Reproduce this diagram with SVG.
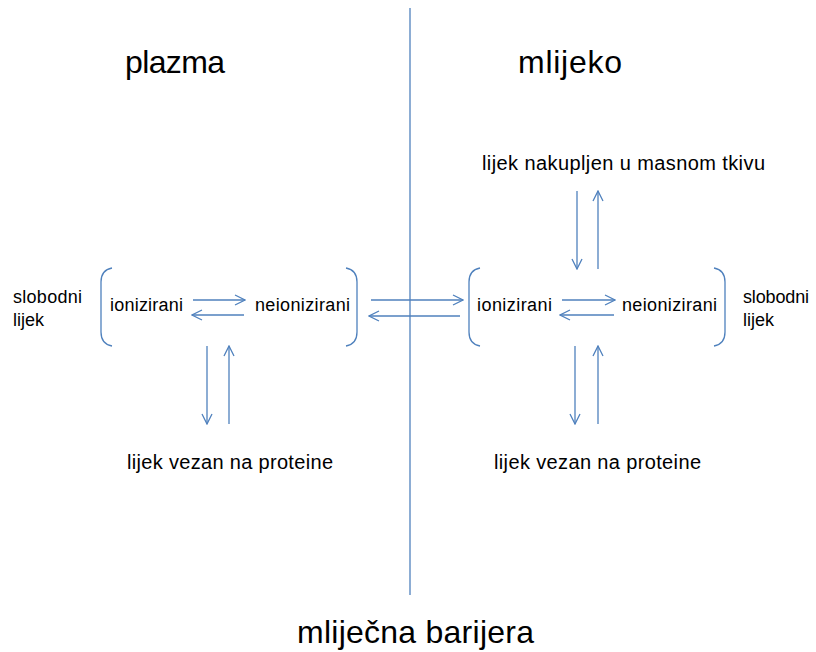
<svg xmlns="http://www.w3.org/2000/svg" width="816" height="652" viewBox="0 0 816 652">
<style>
text{font-family:"Liberation Sans",Arial,sans-serif;fill:#000}
.big{font-size:32px}
.mid{font-size:20px}
.sm{font-size:18px}
.ln{stroke:#4F81BD;stroke-width:1.3;fill:none}
.ar{stroke:#4F81BD;stroke-width:1.3;fill:none;marker-end:url(#ah)}
</style>
<defs>
<marker id="ah" viewBox="0 0 12 12" refX="11" refY="6" markerWidth="12" markerHeight="12" markerUnits="userSpaceOnUse" orient="auto">
<polyline points="1,1 11,6 1,11" fill="none" stroke="#4F81BD" stroke-width="1.3"/>
</marker>
</defs>
<rect width="816" height="652" fill="#fff"/>
<g id="barrier">
<line class="ln" x1="410" y1="8" x2="410" y2="595"/>
</g>
<g id="plazma"><text class="big" x="125" y="73" textLength="100">plazma</text></g>
<g id="mlijeko"><text class="big" x="518" y="73" textLength="104">mlijeko</text></g>
<g id="mlijecna-barijera"><text class="big" x="297" y="643" textLength="237">mliječna barijera</text></g>
<g id="masno-tkivo"><text class="mid" x="482" y="170" textLength="283">lijek nakupljen u masnom tkivu</text></g>
<g id="slobodni-left"><text class="sm" x="13" y="303" textLength="69">slobodni</text><text class="sm" x="13" y="326">lijek</text></g>
<g id="slobodni-right"><text class="sm" x="743" y="303" textLength="66">slobodni</text><text class="sm" x="743" y="326">lijek</text></g>
<g id="plazma-free">
<path class="ln" d="M112,268 Q101,270 101,282 L101,332 Q101,344 112,346"/>
<path class="ln" d="M346,268 Q357,270 357,282 L357,332 Q357,344 346,346"/>
<text class="sm" x="110" y="311" textLength="73">ionizirani</text>
<text class="sm" x="255" y="311" textLength="95">neionizirani</text>
</g>
<g id="mlijeko-free">
<path class="ln" d="M480,268 Q469,270 469,282 L469,332 Q469,344 480,346"/>
<path class="ln" d="M714,268 Q725,270 725,282 L725,332 Q725,344 714,346"/>
<text class="sm" x="477" y="311" textLength="75">ionizirani</text>
<text class="sm" x="622" y="311" textLength="95">neionizirani</text>
</g>
<g id="protein-left"><text class="mid" x="127" y="469" textLength="206">lijek vezan na proteine</text></g>
<g id="protein-right"><text class="mid" x="494" y="469" textLength="207">lijek vezan na proteine</text></g>
<g id="connectors">
<line class="ar" x1="193" y1="300" x2="245" y2="300"/>
<line class="ar" x1="244" y1="315" x2="192" y2="315"/>
<line class="ar" x1="371" y1="300" x2="463" y2="300"/>
<line class="ar" x1="460" y1="316" x2="369" y2="316"/>
<line class="ar" x1="562" y1="300" x2="615" y2="300"/>
<line class="ar" x1="614" y1="315" x2="560" y2="315"/>
<line class="ar" x1="207" y1="346" x2="207" y2="424"/>
<line class="ar" x1="229" y1="424" x2="229" y2="346"/>
<line class="ar" x1="577" y1="191" x2="577" y2="269"/>
<line class="ar" x1="598" y1="269" x2="598" y2="191"/>
<line class="ar" x1="575" y1="346" x2="575" y2="424"/>
<line class="ar" x1="598" y1="424" x2="598" y2="346"/>
</g>
</svg>
